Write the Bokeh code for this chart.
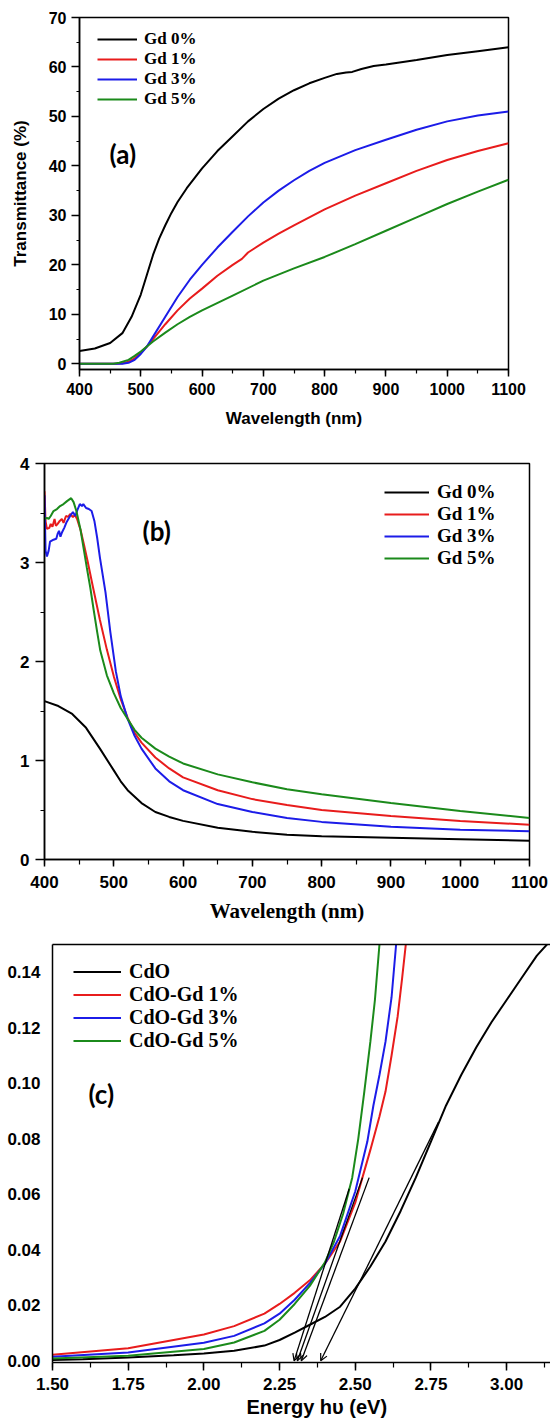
from bokeh.plotting import figure
from bokeh.layouts import column
from bokeh.models import (Range1d, SingleIntervalTicker, FixedTicker, LinearAxis, Legend,
                          LegendItem, Label, Arrow, OpenHead, NumeralTickFormatter, Title)
from bokeh.embed import file_html
from bokeh.resources import INLINE

# ---------------- data : panel (a) transmittance ----------------
a_wl_gd0 = [400, 425, 450, 470, 485, 500, 510, 520, 530, 540, 550, 560, 575, 600, 625, 650, 675,
            700, 725, 750, 775, 800, 820, 835, 845, 860, 880, 900, 950, 1000, 1050, 1100]
a_T_gd0 = [2.6, 3.1, 4.2, 6.2, 9.5, 14.0, 18.0, 22.0, 25.3, 28.0, 30.5, 32.7, 35.5, 39.5, 43.0,
           46.0, 49.0, 51.5, 53.6, 55.3, 56.7, 57.8, 58.6, 58.9, 59.0, 59.6, 60.2, 60.5, 61.4,
           62.4, 63.2, 64.0]
a_wl_gd1 = [400, 440, 460, 470, 480, 490, 500, 510, 520, 540, 560, 580, 600, 625, 650, 665, 675,
            700, 725, 750, 800, 850, 900, 950, 1000, 1050, 1100]
a_T_gd1 = [0, 0, 0, 0.1, 0.4, 1.1, 2.2, 3.5, 5.0, 8.0, 10.8, 13.2, 15.2, 17.8, 20.0, 21.2, 22.5,
           24.5, 26.3, 28.0, 31.2, 34.0, 36.5, 39.0, 41.2, 43.0, 44.6]
a_wl_gd3 = [400, 440, 460, 470, 480, 490, 500, 510, 520, 540, 560, 580, 600, 625, 650, 675, 700,
            725, 750, 775, 800, 850, 900, 950, 1000, 1050, 1100]
a_T_gd3 = [0, 0, 0, 0, 0.2, 0.8, 2.0, 3.5, 5.5, 9.5, 13.5, 17.0, 20.0, 23.5, 26.7, 29.8, 32.6,
           35.0, 37.1, 39.0, 40.6, 43.2, 45.3, 47.3, 49.0, 50.2, 51.0]
a_wl_gd5 = [400, 440, 455, 465, 480, 490, 500, 510, 520, 540, 560, 580, 600, 650, 700, 750, 800,
            850, 900, 950, 1000, 1050, 1100]
a_T_gd5 = [0, 0, 0, 0.2, 0.8, 1.6, 2.5, 3.5, 4.5, 6.3, 8.0, 9.5, 10.8, 13.8, 16.8, 19.3, 21.6,
           24.2, 26.9, 29.6, 32.3, 34.8, 37.2]
a_labels = ["Gd 0%", "Gd 1%", "Gd 3%", "Gd 5%"]

# ---------------- data : panel (b) absorbance ----------------
b_wl_gd0 = [400, 420, 440, 460, 480, 500, 510, 520, 540, 560, 580, 600, 650, 700, 750, 800, 900,
            1000, 1100]
b_A_gd0 = [1.60, 1.55, 1.47, 1.33, 1.12, 0.90, 0.79, 0.70, 0.57, 0.48, 0.43, 0.39, 0.32, 0.28,
           0.25, 0.235, 0.22, 0.205, 0.19]
b_wl_gd1 = [400, 401.5, 403.5, 407, 409, 411.5, 414.5, 416.5, 419, 422, 425, 427.5, 431, 434, 437,
            441, 444, 447, 452, 457, 462, 470, 480, 490, 500, 510, 520, 530, 540, 560, 580, 600,
            650, 700, 750, 800, 900, 1000, 1100]
b_A_gd1 = [3.72, 3.42, 3.34, 3.35, 3.39, 3.36, 3.44, 3.37, 3.39, 3.42, 3.44, 3.40, 3.47, 3.46,
           3.49, 3.46, 3.48, 3.44, 3.33, 3.18, 3.02, 2.75, 2.42, 2.12, 1.85, 1.62, 1.43, 1.28,
           1.18, 1.03, 0.92, 0.83, 0.70, 0.61, 0.55, 0.50, 0.44, 0.39, 0.35]
b_wl_gd3 = [400, 401.5, 403.5, 406, 408, 413, 417, 419, 421, 423, 425, 428.5, 432, 437, 441,
            444.5, 448, 451, 454, 456, 460, 464, 468, 472, 476, 480, 488, 495, 503, 510, 520,
            530, 540, 560, 580, 600, 650, 700, 750, 800, 900, 1000, 1100]
b_A_gd3 = [3.68, 3.12, 3.06, 3.12, 3.21, 3.23, 3.24, 3.29, 3.32, 3.26, 3.30, 3.35, 3.41, 3.47,
           3.51, 3.47, 3.54, 3.59, 3.57, 3.59, 3.55, 3.54, 3.52, 3.42, 3.25, 3.05, 2.70, 2.30,
           1.90, 1.65, 1.42, 1.25, 1.12, 0.92, 0.79, 0.70, 0.56, 0.48, 0.42, 0.38, 0.33, 0.30,
           0.285]
b_wl_gd5 = [400, 403.5, 406, 409, 413, 418, 422.5, 427.5, 432.5, 438.5, 442, 446, 452, 457, 461,
            466, 471, 476, 480.5, 490, 500, 510, 520, 530, 540, 560, 580, 600, 650, 700, 750,
            800, 900, 1000, 1100]
b_A_gd5 = [3.44, 3.45, 3.44, 3.47, 3.52, 3.54, 3.57, 3.59, 3.62, 3.65, 3.61, 3.52, 3.33, 3.12,
           2.95, 2.75, 2.52, 2.30, 2.11, 1.86, 1.68, 1.53, 1.42, 1.31, 1.23, 1.12, 1.04, 0.97,
           0.86, 0.78, 0.71, 0.66, 0.57, 0.49, 0.42]
b_labels = ["Gd 0%", "Gd 1%", "Gd 3%", "Gd 5%"]

# ---------------- data : panel (c) Tauc plot ----------------
c_E_cdo = [1.50, 1.60, 1.75, 1.90, 2.00, 2.10, 2.20, 2.25, 2.30, 2.35, 2.40, 2.45, 2.50, 2.55,
           2.60, 2.65, 2.70, 2.75, 2.80, 2.85, 2.90, 2.95, 3.00, 3.05, 3.10, 3.15, 3.20]
c_Y_cdo = [0.0003, 0.0006, 0.0012, 0.002, 0.0026, 0.0036, 0.0055, 0.0075, 0.0102, 0.013, 0.0158,
           0.0195, 0.026, 0.034, 0.043, 0.054, 0.066, 0.079, 0.092, 0.103, 0.113, 0.122, 0.130,
           0.138, 0.146, 0.152, 0.158]
c_E_gd1 = [1.50, 1.75, 2.00, 2.10, 2.20, 2.25, 2.30, 2.35, 2.40, 2.45, 2.50, 2.55, 2.58, 2.60,
           2.62, 2.64, 2.655, 2.67, 2.69]
c_Y_gd1 = [0.0022, 0.0045, 0.0095, 0.0125, 0.017, 0.0205, 0.0245, 0.029, 0.035, 0.043, 0.057,
           0.076, 0.088, 0.097, 0.11, 0.124, 0.138, 0.153, 0.175]
c_E_gd3 = [1.50, 1.75, 2.00, 2.10, 2.20, 2.25, 2.30, 2.35, 2.40, 2.45, 2.50, 2.54, 2.56, 2.58,
           2.60, 2.62, 2.635, 2.65]
c_Y_gd3 = [0.0015, 0.003, 0.0065, 0.009, 0.0135, 0.017, 0.022, 0.028, 0.035, 0.045, 0.061, 0.079,
           0.092, 0.103, 0.115, 0.131, 0.15, 0.17]
c_E_gd5 = [1.50, 1.75, 2.00, 2.10, 2.20, 2.25, 2.30, 2.35, 2.40, 2.43, 2.46, 2.49, 2.51, 2.53,
           2.55, 2.565, 2.58, 2.60]
c_Y_gd5 = [0.0008, 0.0018, 0.0043, 0.0066, 0.0108, 0.0148, 0.0205, 0.027, 0.0355, 0.043, 0.053,
           0.066, 0.08, 0.097, 0.115, 0.13, 0.15, 0.175]
c_labels = ["CdO", "CdO-Gd 1%", "CdO-Gd 3%", "CdO-Gd 5%"]
# tangent (extrapolation) lines: upper point -> band-gap intercept on the energy axis
tan_E_top = [2.775, 2.546, 2.524, 2.48]
tan_Y_top = [0.086, 0.066, 0.066, 0.062]
tan_E_gap = [2.386, 2.322, 2.309, 2.298]

COLORS = ["#000000", "#e81c1c", "#1c1ce8", "#1b8a1b"]
SANS = "Liberation Sans"
SERIF = "Liberation Serif"
TAG = "Lato"


def make_fig(w, h, xr, yr, left, right, top, bottom):
    p = figure(width=w, height=h, x_range=Range1d(*xr), y_range=Range1d(*yr),
               output_backend="svg", toolbar_location=None, frame_align=False,
               min_border_left=left, min_border_right=right,
               min_border_top=top, min_border_bottom=bottom)
    p.xgrid.visible = False
    p.ygrid.visible = False
    p.background_fill_color = "white"
    p.border_fill_color = "white"
    p.outline_line_color = "black"
    p.outline_line_width = 1.5
    p.outline_line_alpha = 1.0
    return p


def style_axis(ax, size, tick_out, minor_out, standoff):
    ax.axis_line_color = "black"
    ax.axis_line_width = 1.5
    ax.major_tick_line_color = "black"
    ax.major_tick_line_width = 1.5
    ax.major_tick_in = 0
    ax.major_tick_out = tick_out
    ax.minor_tick_line_color = "black"
    ax.minor_tick_line_width = 1.2
    ax.minor_tick_in = 0
    ax.minor_tick_out = minor_out
    ax.major_label_text_font = SANS
    ax.major_label_text_font_style = "bold"
    ax.major_label_text_font_size = size
    ax.major_label_text_color = "black"
    ax.major_label_standoff = standoff


def style_label(ax, text, font, size, standoff):
    ax.axis_label = text
    ax.axis_label_text_font = font
    ax.axis_label_text_font_style = "bold"
    ax.axis_label_text_font_size = size
    ax.axis_label_text_color = "black"
    ax.axis_label_standoff = standoff


def add_legend(p, renderers, labels, loc, font_size, row_h, glyph_w, standoff):
    items = [LegendItem(label=lab, renderers=[r]) for lab, r in zip(labels, renderers)]
    leg = Legend(items=items, location=loc)
    leg.label_text_font = SERIF
    leg.label_text_font_style = "bold"
    leg.label_text_font_size = font_size
    leg.label_text_color = "black"
    leg.label_height = row_h
    leg.glyph_height = row_h
    leg.glyph_width = glyph_w
    leg.label_standoff = standoff
    leg.spacing = 0
    leg.padding = 0
    leg.margin = 0
    leg.border_line_color = None
    leg.background_fill_alpha = 0
    p.add_layout(leg)


def add_tag(p, text, x, y, size):
    p.add_layout(Label(x=x, y=y, x_units="screen", y_units="screen", text=text,
                       text_font=TAG, text_font_style="bold", text_font_size=size,
                       text_color="black", text_baseline="middle", text_align="left"))


LW = 2.0

# ---------------- panel (a) ----------------
pa = make_fig(550, 430, (400, 1100), (-1.15, 70), 79, 42, 17, 61)
ra = []
for (xs, ys), c in zip([(a_wl_gd0, a_T_gd0), (a_wl_gd1, a_T_gd1), (a_wl_gd3, a_T_gd3),
                        (a_wl_gd5, a_T_gd5)], COLORS):
    ra.append(pa.line(xs, ys, line_color=c, line_width=LW))
pa.xaxis.ticker = SingleIntervalTicker(interval=100, num_minor_ticks=2)
pa.yaxis.ticker = SingleIntervalTicker(interval=10, num_minor_ticks=2)
style_axis(pa.xaxis[0], "16px", 7, 4, 6)
style_axis(pa.yaxis[0], "16px", 8, 3, 5)
style_label(pa.xaxis[0], "Wavelength (nm)", SANS, "17px", 11)
style_label(pa.yaxis[0], "Transmittance (%)", SANS, "17px", 16)
add_legend(pa, ra, a_labels, (18, 260), "17px", 20, 40, 7)
add_tag(pa, "(a)", 30, 216, "26px")

# ---------------- panel (b) ----------------
pb = make_fig(550, 495, (400, 1100), (0, 4), 44, 21, 33, 66)
rb = []
for (xs, ys), c in zip([(b_wl_gd0, b_A_gd0), (b_wl_gd1, b_A_gd1), (b_wl_gd3, b_A_gd3),
                        (b_wl_gd5, b_A_gd5)], COLORS):
    rb.append(pb.line(xs, ys, line_color=c, line_width=LW))
pb.xaxis.ticker = SingleIntervalTicker(interval=100, num_minor_ticks=2)
pb.yaxis.ticker = SingleIntervalTicker(interval=1, num_minor_ticks=2)
style_axis(pb.xaxis[0], "17px", 7, 5, 9)
style_axis(pb.yaxis[0], "17px", 9, 4, 6)
style_label(pb.xaxis[0], "Wavelength (nm)", SERIF, "21px", 8)
add_legend(pb, rb, b_labels, (340, 290), "19px", 22, 45, 8)
add_tag(pb, "(b)", 98, 329, "26px")

# ---------------- panel (c) ----------------
pc = make_fig(550, 500, (1.5, 3.145), (-0.0006, 0.15), 52, 0, 19, 63)
pc.outline_line_color = None
rc = []
for (xs, ys), c in zip([(c_E_cdo, c_Y_cdo), (c_E_gd1, c_Y_gd1), (c_E_gd3, c_Y_gd3),
                        (c_E_gd5, c_Y_gd5)], COLORS):
    rc.append(pc.line(xs, ys, line_color=c, line_width=LW))
pc.xaxis.ticker = SingleIntervalTicker(interval=0.25, num_minor_ticks=2)
pc.yaxis.ticker = SingleIntervalTicker(interval=0.02, num_minor_ticks=0)
pc.xaxis.formatter = NumeralTickFormatter(format="0.00")
pc.yaxis.formatter = NumeralTickFormatter(format="0.00")
style_axis(pc.xaxis[0], "17px", 8, 5, 7)
style_axis(pc.yaxis[0], "17px", 0, 0, 12)
top_axis = LinearAxis(ticker=FixedTicker(ticks=[]), axis_line_color="black", axis_line_width=1.5,
                      major_tick_out=0, major_tick_in=0, minor_tick_out=0, minor_tick_in=0,
                      major_label_standoff=0)
pc.add_layout(top_axis, "above")
for e0, y0, e1 in zip(tan_E_top, tan_Y_top, tan_E_gap):
    pc.add_layout(Arrow(end=OpenHead(size=7, line_width=1.2, line_color="black"),
                        x_start=e0, y_start=y0, x_end=e1, y_end=0.0,
                        line_color="black", line_width=1.3))
add_legend(pc, rc, c_labels, (21, 310), "20px", 23, 48, 8)
add_tag(pc, "(c)", 36, 269, "26px")
pc.add_layout(Title(text="Energy hυ (eV)", align="left", offset=194, text_font=SANS,
                    text_font_style="bold", text_font_size="20px", text_color="black",
                    vertical_align="top", standoff=7), "below")

layout = column(pa, pb, pc, spacing=0)
open("out.html", "w").write(file_html(layout, INLINE))
